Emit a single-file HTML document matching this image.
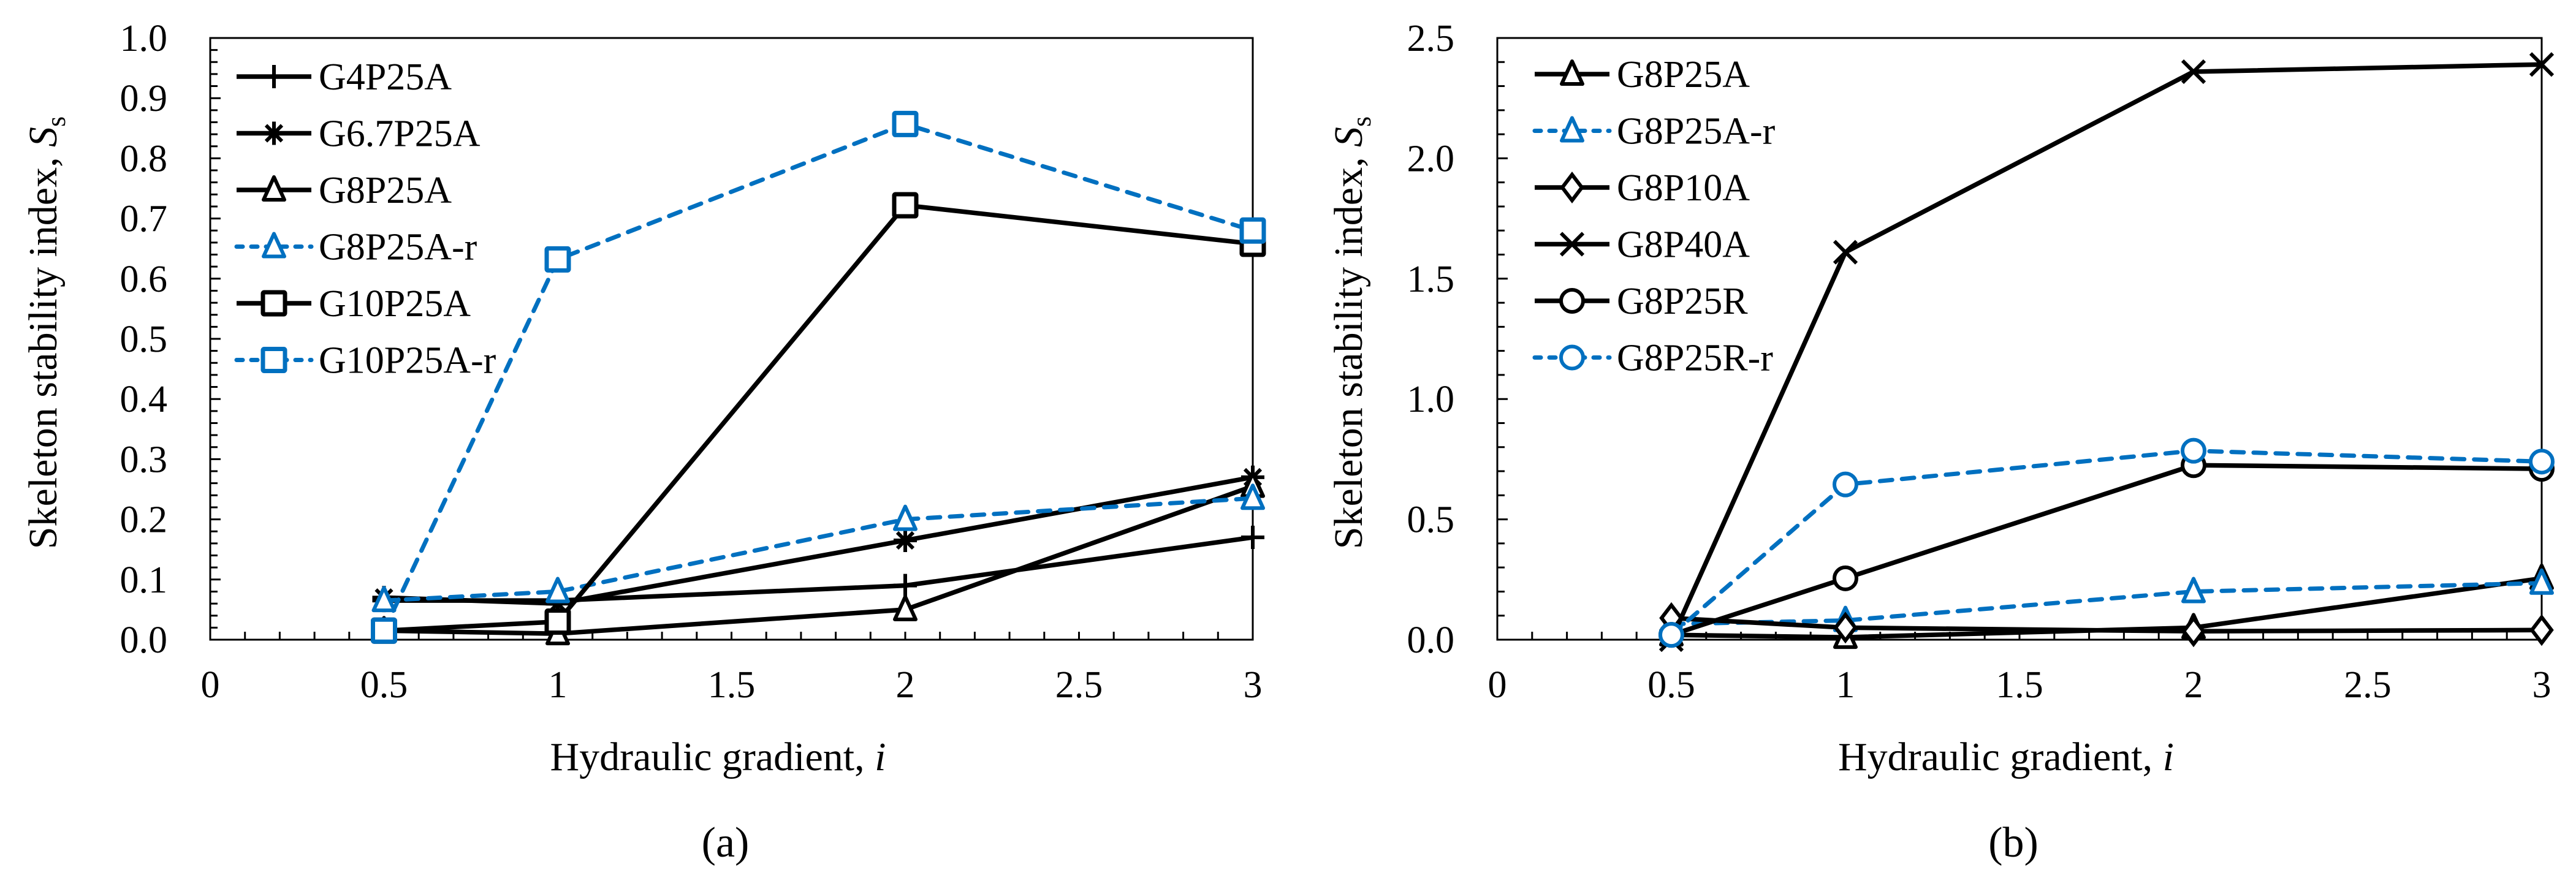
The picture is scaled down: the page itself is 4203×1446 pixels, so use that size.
<!DOCTYPE html>
<html><head><meta charset="utf-8"><style>
html,body{margin:0;padding:0;background:#fff}
svg{display:block}
text{font-family:"Liberation Serif",serif;fill:#000}
</style></head><body>
<svg id="fig" xmlns="http://www.w3.org/2000/svg" width="4203" height="1446" viewBox="0 0 4203 1446"></svg>
<script>
const xCats = [0.5, 1, 2, 3];
const xTicks = [0, 0.5, 1, 1.5, 2, 2.5, 3];
const xTickLabels = ["0", "0.5", "1", "1.5", "2", "2.5", "3"];
const aYTicks = [0, 0.1, 0.2, 0.3, 0.4, 0.5, 0.6, 0.7, 0.8, 0.9, 1.0];
const aYTickLabels = ["0.0","0.1","0.2","0.3","0.4","0.5","0.6","0.7","0.8","0.9","1.0"];
const bYTicks = [0, 0.5, 1.0, 1.5, 2.0, 2.5];
const bYTickLabels = ["0.0","0.5","1.0","1.5","2.0","2.5"];

const aNames = ["G4P25A","G6.7P25A","G8P25A","G8P25A-r","G10P25A","G10P25A-r"];
const aG4P25A = [0.065, 0.065, 0.09, 0.17];
const aG67P25A = [0.07, 0.06, 0.165, 0.27];
const aG8P25A = [0.015, 0.01, 0.05, 0.255];
const aG8P25Ar = [0.065, 0.08, 0.2, 0.235];
const aG10P25A = [0.015, 0.03, 0.722, 0.658];
const aG10P25Ar = [0.015, 0.632, 0.857, 0.68];

const bNames = ["G8P25A","G8P25A-r","G8P10A","G8P40A","G8P25R","G8P25R-r"];
const bG8P25A = [0.02, 0.01, 0.05, 0.255];
const bG8P25Ar = [0.065, 0.08, 0.2, 0.235];
const bG8P10A = [0.09, 0.05, 0.035, 0.04];
const bG8P40A = [0.0, 1.61, 2.36, 2.39];
const bG8P25R = [0.02, 0.255, 0.725, 0.71];
const bG8P25Rr = [0.02, 0.645, 0.785, 0.74];

const NS = "http://www.w3.org/2000/svg";
const svg = document.getElementById('fig');
const BLUE = "#0070C0";
function mk(tag, attrs, parent){
  const e = document.createElementNS(NS, tag);
  for (const k in attrs) e.setAttribute(k, attrs[k]);
  (parent||svg).appendChild(e);
  return e;
}
function marker(g, type, x, y, color){
  const s = 19, sw = 6;
  let m;
  if (type === 'plus'){
    m = mk('path', {d:`M${x-s} ${y}H${x+s}M${x} ${y-s}V${y+s}`, stroke:color, 'stroke-width':sw, fill:'none'}, g);
  } else if (type === 'star'){
    m = mk('path', {d:`M${x-s} ${y}H${x+s}M${x} ${y-s}V${y+s}M${x-13} ${y-13}L${x+13} ${y+13}M${x-13} ${y+13}L${x+13} ${y-13}`, stroke:color, 'stroke-width':sw, fill:'none'}, g);
  } else if (type === 'x'){
    m = mk('path', {d:`M${x-18} ${y-18}L${x+18} ${y+18}M${x-18} ${y+18}L${x+18} ${y-18}`, stroke:color, 'stroke-width':sw, fill:'none'}, g);
  } else if (type === 'tri'){
    m = mk('path', {d:`M${x} ${y-21}L${x+17} ${y+16}L${x-17} ${y+16}Z`, stroke:color, 'stroke-width':sw, fill:'#fff', 'stroke-linejoin':'round'}, g);
  } else if (type === 'sq'){
    m = mk('rect', {x:x-18, y:y-18, width:36, height:36, stroke:color, 'stroke-width':7, fill:'#fff', rx:2}, g);
  } else if (type === 'dia'){
    m = mk('path', {d:`M${x} ${y-21}L${x+16} ${y}L${x} ${y+21}L${x-16} ${y}Z`, stroke:color, 'stroke-width':sw, fill:'#fff'}, g);
  } else if (type === 'circ'){
    m = mk('circle', {cx:x, cy:y, r:18, stroke:color, 'stroke-width':sw, fill:'#fff'}, g);
  }
  
  
}

function chart(cfg){
  const L = cfg.left, R = cfg.right, T = 62, B = 1044;
  const sx = v => L + (v/3)*(R-L);
  const sy = v => B - (v/cfg.ymax)*(B-T);
  const g = mk('g', {});
  
  
  const fr = mk('rect', {x:L, y:T, width:R-L, height:B-T, fill:'none', stroke:'#000', 'stroke-width':3}, g);
  
  
  let d = '';
  for (let i=1;i<30;i++){ const x = sx(i*0.1); d += `M${x} ${B}V${B-13}`; }
  const xt = mk('path', {d, stroke:'#000', 'stroke-width':3}, g);
  
  
  d = '';
  const n = Math.round(cfg.ymax/cfg.yminor);
  for (let i=1;i<n;i++){ const y = sy(i*cfg.yminor); const len = (i%5===0)?17:12; d += `M${L} ${y}H${L+len}`; }
  const yt = mk('path', {d, stroke:'#000', 'stroke-width':3}, g);
  
  
  xTicks.forEach((v,i)=>{
    const t = mk('text', {x:sx(v), y:1138, 'font-size':62, 'text-anchor':'middle'}, g);
    t.textContent = xTickLabels[i];
    
    
  });
  cfg.yticks.forEach((v,i)=>{
    const t = mk('text', {x:L-70, y:sy(v)+21, 'font-size':62, 'text-anchor':'end'}, g);
    t.textContent = cfg.ylabels[i];
    
    
  });
  const xtit = mk('text', {x:(L+R)/2-22, y:1257, 'font-size':66, 'text-anchor':'middle'}, g);
  xtit.innerHTML = 'Hydraulic gradient, <tspan font-style="italic">i</tspan>';
  
  
  const ytit = mk('text', {x:0, y:0, 'font-size':66, 'text-anchor':'middle', transform:`translate(${cfg.ytx},${(T+B)/2-10}) rotate(-90)`}, g);
  ytit.innerHTML = 'Skeleton stability index, <tspan font-style="italic">S</tspan><tspan font-size="44" dy="14">s</tspan>';
  
  
  const cap = mk('text', {x:(L+R)/2-10, y:1398, 'font-size':70, 'text-anchor':'middle'}, g);
  cap.textContent = cfg.caption;
  
  
  cfg.series.forEach((s, si)=>{
    const sg = mk('g', {}, g);
    
    
    const pts = s.data.map((v,i)=>`${sx(xCats[i])},${sy(v)}`).join(' ');
    const pl = mk('polyline', {points:pts, fill:'none', stroke:s.color, 'stroke-width':s.dash?7:7.5, 'stroke-dasharray':s.dash?'20 16':'none', 'stroke-linecap':s.dash?'round':'butt', 'stroke-linejoin':'round'}, sg);
    
    
    s.data.forEach((v,i)=>marker(sg, s.m, sx(xCats[i]), sy(v), s.color));
    const ly = cfg.legY + si*92.5;
    const lg = mk('g', {}, g);
    
    
    mk('line', {x1:L+cfg.legX, x2:L+cfg.legX+122, y1:ly, y2:ly, stroke:s.color, 'stroke-width':s.dash?7:7.5, 'stroke-dasharray':s.dash?'10 14':'none', 'stroke-linecap':s.dash?'round':'butt'}, lg);
    marker(lg, s.m, L+cfg.legX+61, ly, s.color);
    const lt = mk('text', {x:L+cfg.legX+134, y:ly+21, 'font-size':62}, lg);
    lt.textContent = s.name;
    
    
  });
}

chart({id:'chart-a', left:343, right:2044, ymax:1.0, yminor:0.02, yticks:aYTicks, ylabels:aYTickLabels, ytx:92, caption:'(a)', legX:43, legY:125,
  series:[
    {name:aNames[0], data:aG4P25A, m:'plus', color:'#000'},
    {name:aNames[1], data:aG67P25A, m:'star', color:'#000'},
    {name:aNames[2], data:aG8P25A, m:'tri', color:'#000'},
    {name:aNames[3], data:aG8P25Ar, m:'tri', color:BLUE, dash:true},
    {name:aNames[4], data:aG10P25A, m:'sq', color:'#000'},
    {name:aNames[5], data:aG10P25Ar, m:'sq', color:BLUE, dash:true}
  ]});
chart({id:'chart-b', left:2443, right:4147, ymax:2.5, yminor:0.1, yticks:bYTicks, ylabels:bYTickLabels, ytx:2222, caption:'(b)', legX:61, legY:121,
  series:[
    {name:bNames[0], data:bG8P25A, m:'tri', color:'#000'},
    {name:bNames[1], data:bG8P25Ar, m:'tri', color:BLUE, dash:true},
    {name:bNames[2], data:bG8P10A, m:'dia', color:'#000'},
    {name:bNames[3], data:bG8P40A, m:'x', color:'#000'},
    {name:bNames[4], data:bG8P25R, m:'circ', color:'#000'},
    {name:bNames[5], data:bG8P25Rr, m:'circ', color:BLUE, dash:true}
  ]});
</script>
</body></html>
